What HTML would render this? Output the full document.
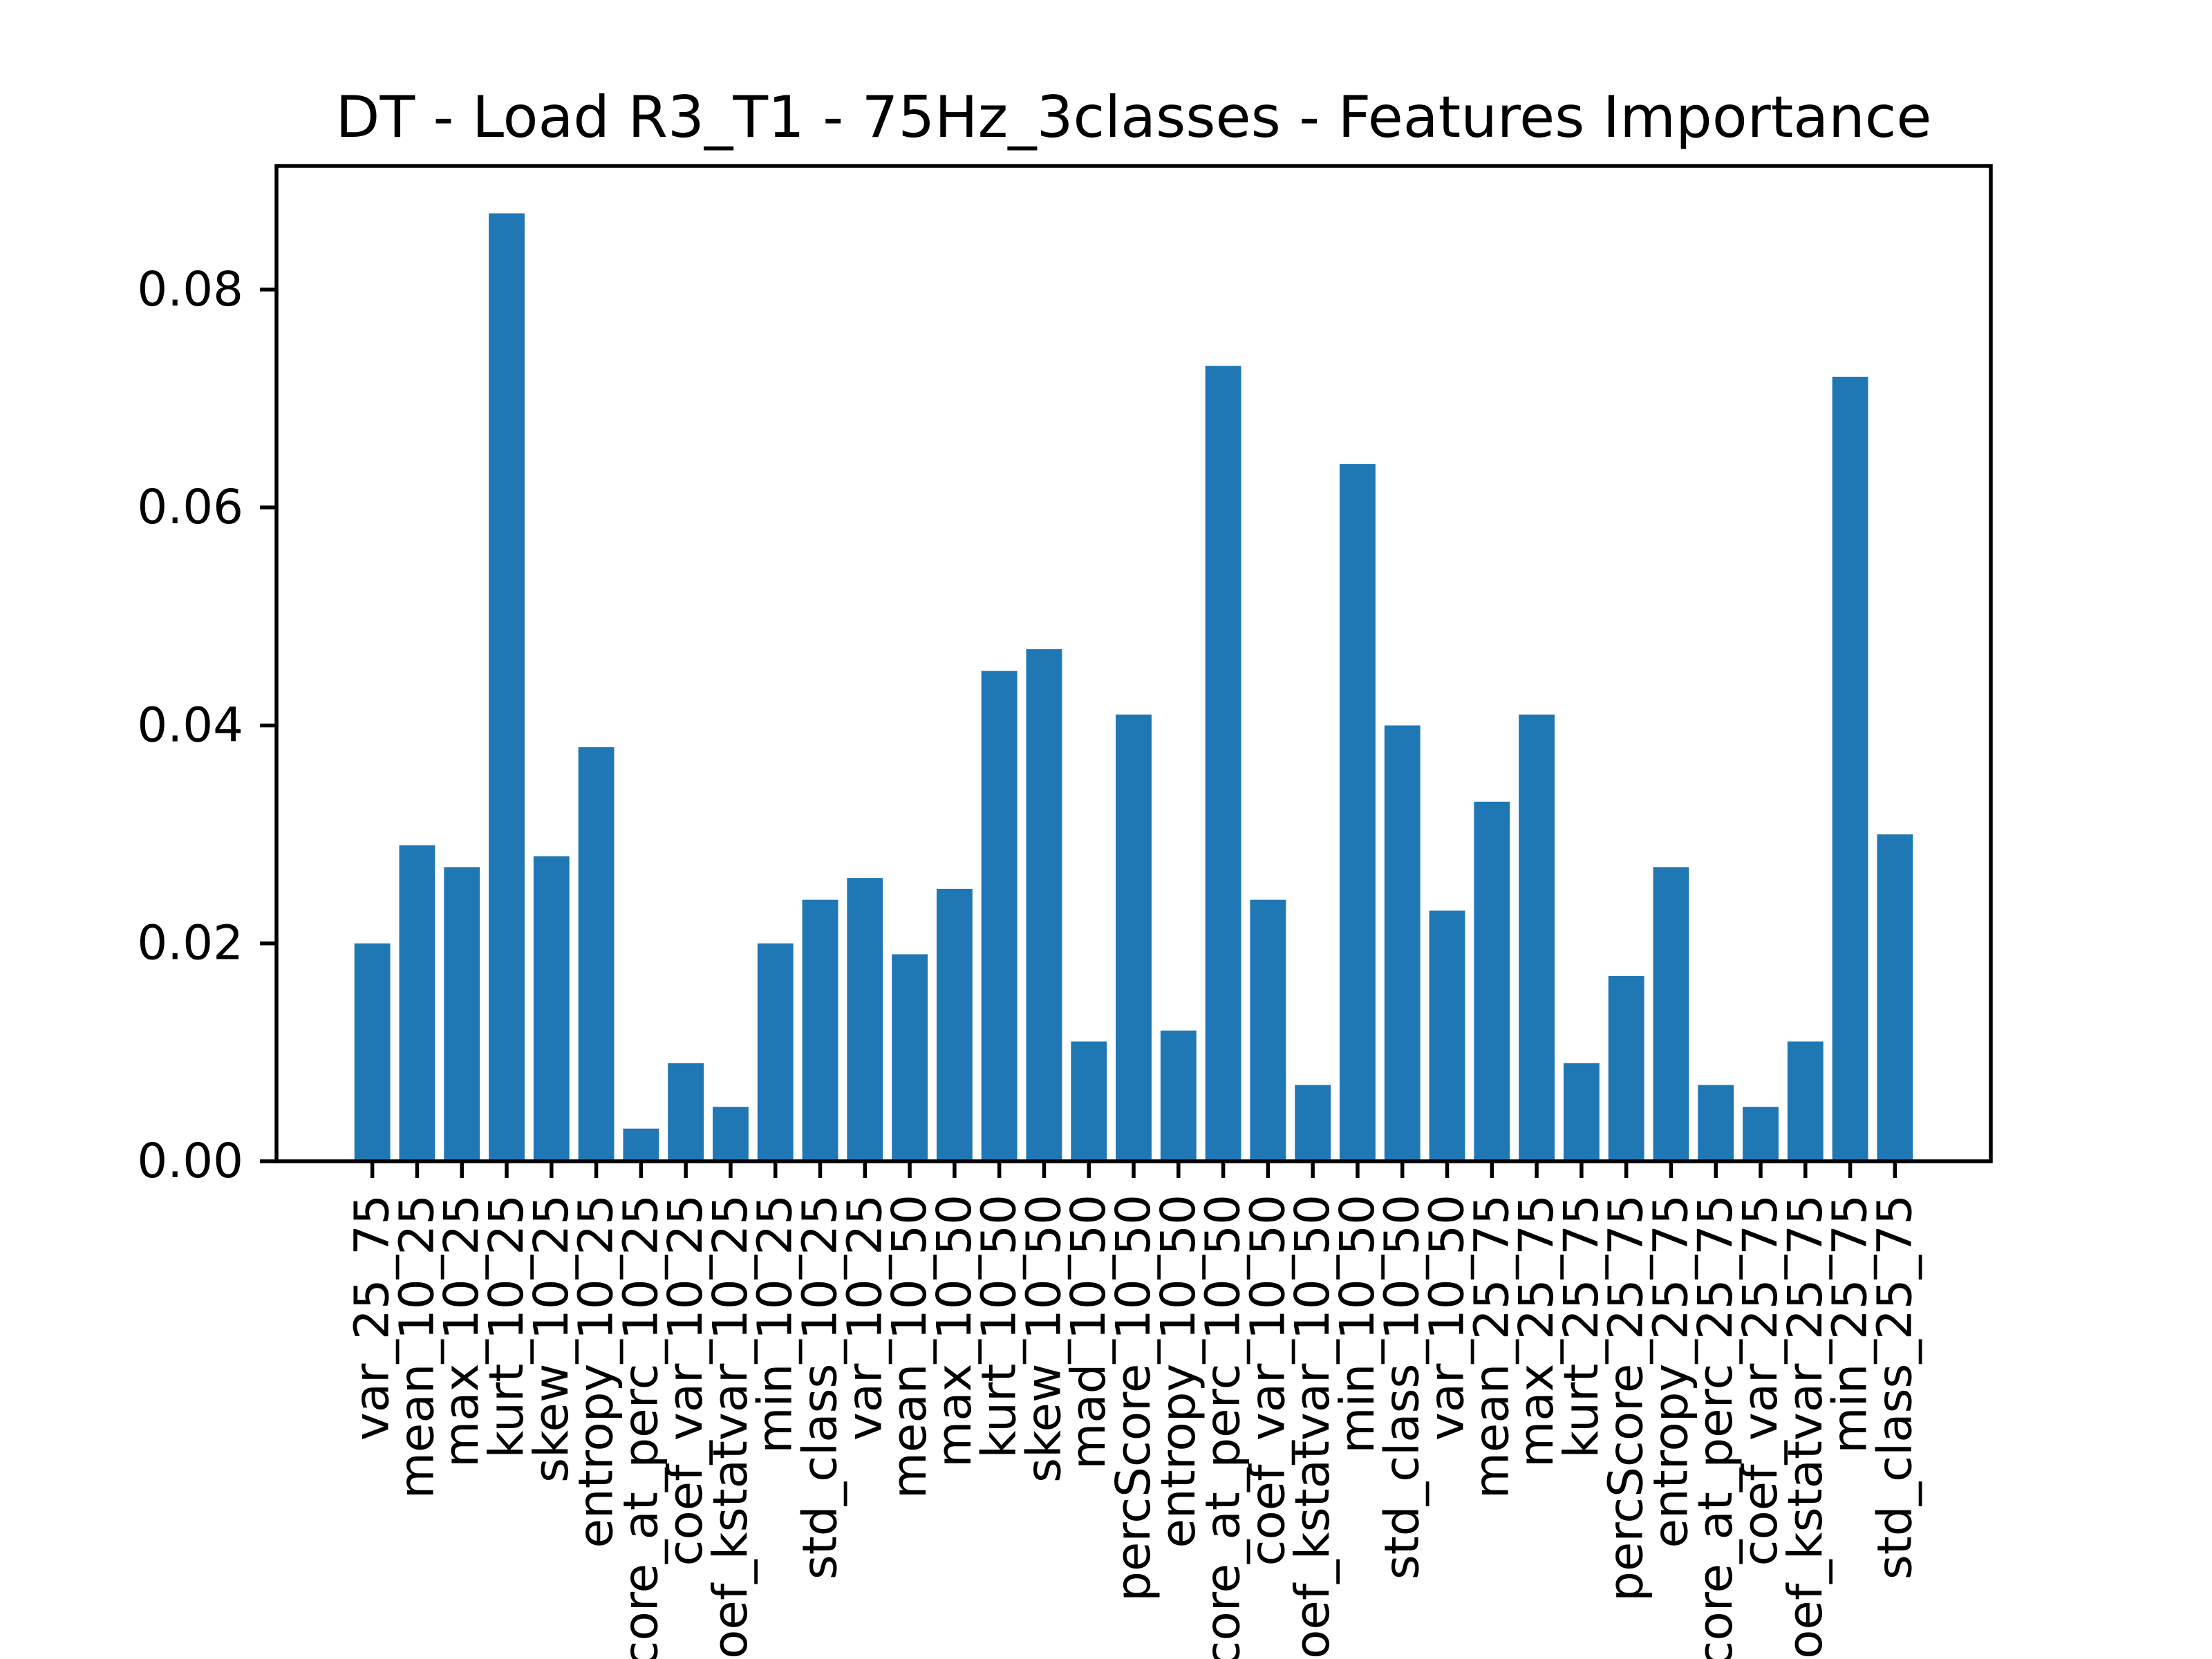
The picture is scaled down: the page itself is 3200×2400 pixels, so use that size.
<!DOCTYPE html>
<html><head><meta charset="utf-8"><style>html,body{margin:0;padding:0;background:#fff;width:3200px;height:2400px;overflow:hidden}svg{display:block}text{font-family:"DejaVu Sans","Liberation Sans",sans-serif;fill:#000}</style></head>
<body>
<svg id="chart" width="3200" height="2400" viewBox="0 0 3200 2400" xmlns="http://www.w3.org/2000/svg" style="overflow:hidden">
<rect width="3200" height="2400" fill="#fff"/>
<text x="1640" y="198" font-size="83" text-anchor="middle">DT - Load R3_T1 - 75Hz_3classes - Features Importance</text>
<g id="bars"></g><g id="xticks"></g><g id="yticks"></g>
<rect x="400" y="240" width="2480" height="1440" fill="none" stroke="#000" stroke-width="5.5"/>
</svg>
<script>
const categories = ["var_25_75","mean_10_25","max_10_25","kurt_10_25","skew_10_25","entropy_10_25","percScore_at_perc_10_25","coef_var_10_25","coef_kstatvar_10_25","min_10_25","std_class_10_25","var_10_25","mean_10_50","max_10_50","kurt_10_50","skew_10_50","mad_10_50","percScore_10_50","entropy_10_50","percScore_at_perc_10_50","coef_var_10_50","coef_kstatvar_10_50","min_10_50","std_class_10_50","var_10_50","mean_25_75","max_25_75","kurt_25_75","percScore_25_75","entropy_25_75","percScore_at_perc_25_75","coef_var_25_75","coef_kstatvar_25_75","min_25_75","std_class_25_75"];
const importances = [0.020,0.029,0.027,0.087,0.028,0.038,0.003,0.009,0.005,0.020,0.024,0.026,0.019,0.025,0.045,0.047,0.011,0.041,0.012,0.073,0.024,0.007,0.064,0.040,0.023,0.033,0.041,0.009,0.017,0.027,0.007,0.005,0.011,0.072,0.030];
const yTicks = [0,0.02,0.04,0.06,0.08];
const yTickLabels = ["0.00","0.02","0.04","0.06","0.08"];

const NS="http://www.w3.org/2000/svg";
const L=400,R=2880,T=240,B=1680;
const n=categories.length;
const x0=-0.4-0.05*(n-0.2), x1=n-1+0.4+0.05*(n-0.2);
const ymax=Math.max(...importances)*1.05;
const sx=v=>L+(v-x0)/(x1-x0)*(R-L);
const sy=v=>B-v/ymax*(B-T);
const bw=0.8*(R-L)/(x1-x0);
const mk=(t,a)=>{const e=document.createElementNS(NS,t);for(const k in a)e.setAttribute(k,a[k]);return e;};
const gb=document.getElementById('bars'),gx=document.getElementById('xticks'),gy=document.getElementById('yticks');
importances.forEach((v,i)=>{
  const r=mk('rect',{x:sx(i)-bw/2,y:sy(v),width:bw,height:B-sy(v),fill:'#1f77b4'});
  
  
  gb.appendChild(r);
  const tk=mk('line',{x1:sx(i),x2:sx(i),y1:B,y2:B+24,stroke:'#000','stroke-width':5.5});
  
  
  gx.appendChild(tk);
  const tx=mk('text',{x:0,y:0,'font-size':69,'text-anchor':'end','dominant-baseline':'central',transform:`translate(${sx(i)},${B+48}) rotate(-90)`});
  tx.textContent=categories[i];
  
  
  gx.appendChild(tx);
});
yTicks.forEach((v,i)=>{
  const tk=mk('line',{x1:L-24,x2:L,y1:sy(v),y2:sy(v),stroke:'#000','stroke-width':5.5});
  
  
  gy.appendChild(tk);
  const tx=mk('text',{x:L-48,y:sy(v),'font-size':69,'text-anchor':'end','dominant-baseline':'central'});
  tx.textContent=yTickLabels[i];
  
  
  gy.appendChild(tx);
});
</script>
</body></html>
